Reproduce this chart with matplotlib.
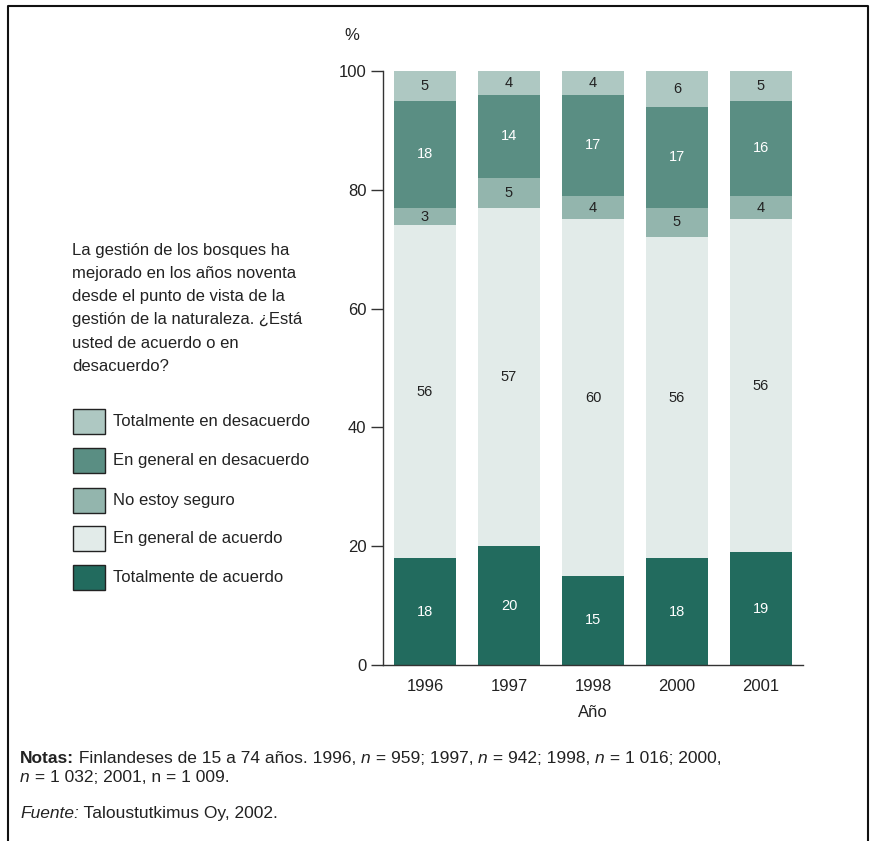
import matplotlib
matplotlib.use("Agg")
import matplotlib.pyplot as plt
from matplotlib.patches import Rectangle
from matplotlib.lines import Line2D
import numpy as np

plt.rcParams['font.family'] = ['Liberation Sans', 'DejaVu Sans']

years = ["1996", "1997", "1998", "2000", "2001"]

# stacked from bottom to top
totalmente_acuerdo = [18, 20, 15, 18, 19]
general_acuerdo = [56, 57, 60, 54, 56]          # heights as drawn
general_acuerdo_labels = [56, 57, 60, 56, 56]   # values printed on the bars
no_seguro = [3, 5, 4, 5, 4]
general_desacuerdo = [18, 14, 17, 17, 16]
totalmente_desacuerdo = [5, 4, 4, 6, 5]

series_names = ["Totalmente de acuerdo", "En general de acuerdo", "No estoy seguro",
                "En general en desacuerdo", "Totalmente en desacuerdo"]
series_values = [totalmente_acuerdo, general_acuerdo, no_seguro,
                 general_desacuerdo, totalmente_desacuerdo]
series_labels = [totalmente_acuerdo, general_acuerdo_labels, no_seguro,
                 general_desacuerdo, totalmente_desacuerdo]
colors = ["#226b5e", "#e2ebe9", "#93b5ad", "#5a8e83", "#aec8c2"]
text_colors = ["white", "#222222", "#222222", "white", "#222222"]

yticks = [0, 20, 40, 60, 80, 100]

question = ("La gestión de los bosques ha\nmejorado en los años noventa\n"
            "desde el punto de vista de la\ngestión de la naturaleza. ¿Está\n"
            "usted de acuerdo o en\ndesacuerdo?")

W, H = 871, 841
fig = plt.figure(figsize=(W / 100, H / 100), dpi=100)
ax = fig.add_axes([383 / W, 1 - 665 / H, 420 / W, 594 / H])

x = np.arange(len(years))
bottom = np.zeros(len(years))
for vals, labs, col, tcol in zip(series_values, series_labels, colors, text_colors):
    vals = np.array(vals, dtype=float)
    ax.bar(x, vals, bottom=bottom, width=0.73, color=col, edgecolor='none',
           clip_on=False, zorder=2)
    for xi, b, v, lab in zip(x, bottom, vals, labs):
        ax.text(xi, b + v / 2, str(lab), ha='center', va='center',
                fontsize=10.5, color=tcol, zorder=3)
    bottom += vals

ax.set_xlim(-0.5, 4.5)
ax.set_ylim(0, 100)
ax.set_xticks(x)
ax.set_xticklabels(years, fontsize=12, color='#222222')
ax.set_yticks(yticks)
ax.set_yticklabels([str(t) for t in yticks], fontsize=12, color='#222222')
ax.tick_params(axis='x', length=0, pad=10)
ax.tick_params(axis='y', length=9, width=1, color='#333333', pad=3)
for s in ['top', 'right']:
    ax.spines[s].set_visible(False)
ax.spines['left'].set_color('#333333')
ax.spines['bottom'].set_color('#333333')
ax.spines['left'].set_linewidth(1)
ax.spines['bottom'].set_linewidth(1)
ax.set_xlabel("Año", fontsize=12, color='#222222', labelpad=8)

fig.text(352 / W, 1 - 36 / H, "%", fontsize=12, ha='center', va='center', color='#222222')

# question text
fig.text(72 / W, 1 - 243 / H, question, fontsize=12, ha='left', va='top',
         linespacing=1.68, color='#222222')

# legend
legend_order = [4, 3, 2, 1, 0]
row_y = [421, 460, 500, 538, 577]
for yy, idx in zip(row_y, legend_order):
    fig.patches.append(Rectangle((73 / W, 1 - (yy + 13) / H), 32 / W, 25 / H,
                                 transform=fig.transFigure, facecolor=colors[idx],
                                 edgecolor='#222222', linewidth=1))
    fig.text(113 / W, 1 - yy / H, series_names[idx], fontsize=12, ha='left',
             va='center', color='#222222')

# notes, drawn as runs of differently styled text
renderer = fig.canvas.get_renderer()


def text_runs(x0, y0, runs, size=12.5):
    xpos = x0
    for s, style, weight in runs:
        t = fig.text(xpos / W, 1 - y0 / H, s, fontsize=size, ha='left', va='baseline',
                     color='#222222', fontstyle=style, fontweight=weight)
        bb = t.get_window_extent(renderer=renderer)
        xpos += bb.width


text_runs(20, 763, [("Notas:", 'normal', 'bold'),
                    (" Finlandeses de 15 a 74 años. 1996, ", 'normal', 'normal'),
                    ("n", 'italic', 'normal'), (" = 959; 1997, ", 'normal', 'normal'),
                    ("n", 'italic', 'normal'), (" = 942; 1998, ", 'normal', 'normal'),
                    ("n", 'italic', 'normal'), (" = 1 016; 2000,", 'normal', 'normal')])
text_runs(20, 782, [("n", 'italic', 'normal'),
                    (" = 1 032; 2001, n = 1 009.", 'normal', 'normal')])
text_runs(20, 818, [("Fuente:", 'italic', 'normal'),
                    (" Taloustutkimus Oy, 2002.", 'normal', 'normal')])

# frame
fig.lines.append(Line2D([8 / W, 8 / W, 868 / W, 868 / W], [0, 1 - 6 / H, 1 - 6 / H, 0],
                        transform=fig.transFigure, color='#111111', linewidth=1.5))

fig.savefig("out.png", dpi=100)
